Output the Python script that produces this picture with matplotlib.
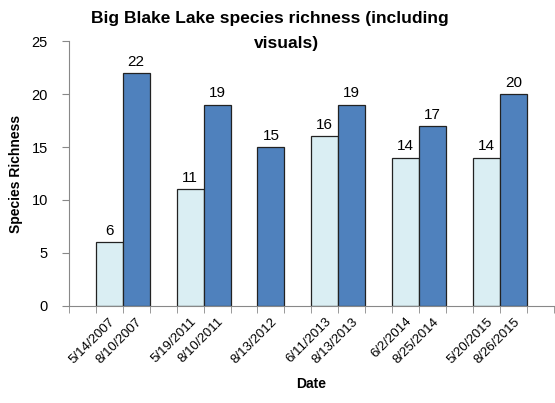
import matplotlib
matplotlib.use("Agg")
import matplotlib.pyplot as plt
import numpy as np

plt.rcParams['font.family'] = ['Liberation Sans', 'DejaVu Sans']

# --- data ---------------------------------------------------
dates = ["", "5/14/2007", "8/10/2007", "", "5/19/2011", "8/10/2011", "",
         "8/13/2012", "", "6/11/2013", "8/13/2013", "", "6/2/2014",
         "8/25/2014", "", "5/20/2015", "8/26/2015", ""]
early = [None, 6, None, None, 11, None, None, None, None, 16, None, None,
         14, None, None, 14, None, None]
late = [None, None, 22, None, None, 19, None, 15, None, None, 19, None,
        None, 17, None, None, 20, None]

light = '#DAEEF3'
dark = '#4F81BD'

fig = plt.figure(figsize=(5.55, 4.03), dpi=100)
ax = fig.add_axes([0.124, 0.241, 0.874, 0.657])

x = np.arange(len(dates))
for vals, col in [(early, light), (late, dark)]:
    xs = [i for i, v in enumerate(vals) if v is not None]
    hs = [v for v in vals if v is not None]
    bars = ax.bar(xs, hs, width=1.0, color=col, edgecolor='#222222', linewidth=0.9)
    for b, h in zip(bars, hs):
        ax.text(b.get_x() + b.get_width() / 2, h + 0.4, str(h), ha='center',
                va='bottom', fontsize=11)

ax.set_xlim(-0.5, len(dates) - 0.5)
ax.set_ylim(0, 25)
ax.set_yticks([0, 5, 10, 15, 20, 25])

ax.set_xticks(x)
ax.set_xticklabels(dates, rotation=45, ha='right', rotation_mode='anchor', fontsize=9.5)
ax.set_xticks(np.arange(-0.5, len(dates)), minor=True)
ax.tick_params(axis='x', which='major', length=0, pad=7)
ax.tick_params(axis='x', which='minor', length=5, color='#888888')
ax.tick_params(axis='y', length=5, color='#888888', labelsize=10.5, pad=10)

for s in ['top', 'right']:
    ax.spines[s].set_visible(False)
for s in ['left', 'bottom']:
    ax.spines[s].set_color('#888888')

ax.set_xlabel("Date", fontweight='bold', fontsize=10, labelpad=8)
ax.set_ylabel("Species Richness", fontweight='bold', fontsize=10, labelpad=6)

# title wraps onto two lines, as in the original
fig.text(0.487, 0.955, "Big Blake Lake species richness (including",
         ha='center', va='center', fontweight='bold', fontsize=12.5)
fig.text(0.517, 0.893, "visuals)",
         ha='center', va='center', fontweight='bold', fontsize=12.5)

fig.savefig("out.png", dpi=100)
